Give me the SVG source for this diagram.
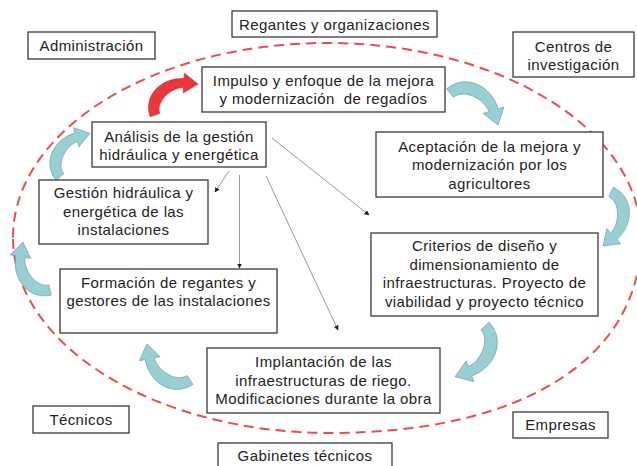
<svg xmlns="http://www.w3.org/2000/svg" xmlns:xlink="http://www.w3.org/1999/xlink" width="637" height="466" viewBox="0 0 637 466">
<style>
  .box { fill: #ffffff; stroke: #3a3a3a; stroke-width: 1.3; }
  .t { font-family: "Liberation Sans", Arial, sans-serif; font-size: 15px; letter-spacing: 0.4px; fill: #222222; text-anchor: middle; }
  .conn { stroke: #8c8c8c; stroke-width: 0.9; fill: none; marker-end: url(#ah); }
  .teal { fill: #98CFD2; stroke: #6A9FA3; stroke-width: 0.6; }
  .red { fill: #E8383D; stroke: #C42C30; stroke-width: 0.6; }
  .ring { fill: none; stroke: #EE4B4B; stroke-width: 2; stroke-dasharray: 10 6; }
</style>
<defs>
  <marker id="ah" viewBox="0 0 10 10" refX="9" refY="5" markerWidth="5" markerHeight="5" orient="auto" markerUnits="userSpaceOnUse">
    <path d="M0,0 L10,5 L0,10 Z" fill="#222222"/>
  </marker>
  <path id="carrow" d="M -4.8,-1.4 C 1.8,-23.4 27.8,-26.4 44.8,-12.5 L 48.3,-16.7 L 53,0 L 35.7,-1.3 L 39.2,-5.5 C 30,-13 8.4,-10.6 4.8,1.4 Z"/>
</defs>
<rect x="0" y="0" width="637" height="466" fill="#ffffff"/>

<path class="ring" d="M 13,237.5 C 13,130.1 153.6,43 327,43 C 500.4,43 641,130.1 641,237.5 C 641,358 523,433 330,433 C 155,433 13,345 13,237.5 Z"/>

<g id="connectors">
  <line class="conn" x1="229" y1="171" x2="215" y2="192"/>
  <line class="conn" x1="239.5" y1="175" x2="239.5" y2="268"/>
  <line class="conn" x1="266" y1="176" x2="338" y2="330"/>
  <line class="conn" x1="272" y1="138" x2="369" y2="215"/>
</g>

<g id="cycle-arrows">
  <use xlink:href="#carrow" class="red" transform="translate(155,115) rotate(-35.8)"/>
  <use xlink:href="#carrow" class="teal" transform="translate(450,93) rotate(33.7) scale(1.09)"/>
  <use xlink:href="#carrow" class="teal" transform="translate(611,192) rotate(98.4) scale(1.03)"/>
  <use xlink:href="#carrow" class="teal" transform="translate(485,326) rotate(120.5) scale(1.11)"/>
  <use xlink:href="#carrow" class="teal" transform="translate(190,380) rotate(-140) scale(1.06)"/>
  <use xlink:href="#carrow" class="teal" transform="translate(50,290) rotate(-119.4) scale(1.04)"/>
  <use xlink:href="#carrow" class="teal" transform="translate(60,177) rotate(-55.7)"/>
</g>

<g id="administracion">
  <rect class="box" x="28" y="32" width="127" height="27"/>
  <text class="t" x="91.5" y="51">Administración</text>
</g>
<g id="regantes">
  <rect class="box" x="232" y="11" width="205" height="26"/>
  <text class="t" x="334.5" y="30">Regantes y organizaciones</text>
</g>
<g id="centros">
  <rect class="box" x="513" y="32" width="121" height="45"/>
  <text class="t" x="573.5" y="52">Centros de</text>
  <text class="t" x="573.5" y="70">investigación</text>
</g>
<g id="impulso">
  <rect class="box" x="202" y="67" width="243" height="45"/>
  <text class="t" x="323.5" y="86">Impulso y enfoque de la mejora</text>
  <text class="t" x="323.5" y="104" xml:space="preserve">y modernización  de regadíos</text>
</g>
<g id="analisis">
  <rect class="box" x="92" y="122" width="174" height="45"/>
  <text class="t" x="179" y="142">Análisis de la gestión</text>
  <text class="t" x="179" y="160">hidráulica y energética</text>
</g>
<g id="gestion">
  <rect class="box" x="39" y="180" width="169" height="64"/>
  <text class="t" x="123.5" y="198">Gestión hidráulica y</text>
  <text class="t" x="123.5" y="216.5">energética de las</text>
  <text class="t" x="123.5" y="235">instalaciones</text>
</g>
<g id="aceptacion">
  <rect class="box" x="376" y="132" width="227" height="65"/>
  <text class="t" x="489.5" y="152">Aceptación de la mejora y</text>
  <text class="t" x="489.5" y="170">modernización por los</text>
  <text class="t" x="489.5" y="188.5">agricultores</text>
</g>
<g id="criterios">
  <rect class="box" x="371" y="233" width="227" height="83"/>
  <text class="t" x="484.5" y="251">Criterios de diseño y</text>
  <text class="t" x="484.5" y="269.5">dimensionamiento de</text>
  <text class="t" x="484.5" y="288">infraestructuras. Proyecto de</text>
  <text class="t" x="484.5" y="307">viabilidad y proyecto técnico</text>
</g>
<g id="formacion">
  <rect class="box" x="60" y="269" width="217" height="64"/>
  <text class="t" x="168.5" y="287.5">Formación de regantes y</text>
  <text class="t" x="168.5" y="306">gestores de las instalaciones</text>
</g>
<g id="implantacion">
  <rect class="box" x="207" y="348" width="233" height="65"/>
  <text class="t" x="323.5" y="367">Implantación de las</text>
  <text class="t" x="323.5" y="385.5">infraestructuras de riego.</text>
  <text class="t" x="323.5" y="404">Modificaciones durante la obra</text>
</g>
<g id="tecnicos">
  <rect class="box" x="33" y="406" width="96" height="27"/>
  <text class="t" x="81" y="424.5">Técnicos</text>
</g>
<g id="gabinetes">
  <rect class="box" x="218" y="443" width="174" height="30"/>
  <text class="t" x="305" y="461">Gabinetes técnicos</text>
</g>
<g id="empresas">
  <rect class="box" x="513" y="412" width="95" height="26"/>
  <text class="t" x="560.5" y="429.5">Empresas</text>
</g>
</svg>
